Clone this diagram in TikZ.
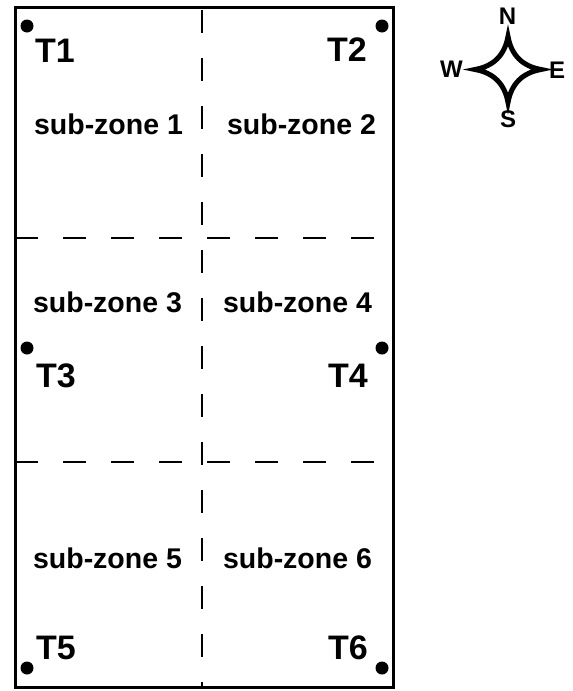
\documentclass[tikz,border=0pt]{standalone}
\usepackage{fontspec}
\setmainfont{Liberation Sans}
\begin{document}
\begin{tikzpicture}[x=1pt,y=-1pt,
  frame/.style={line width=3pt},
  divider/.style={line width=2pt, dash pattern=on 23pt off 25pt},
  tdot/.style={circle, fill=black, inner sep=0pt, minimum size=13pt},
  tlabel/.style={inner sep=0pt, font=\fontsize{34}{38}\selectfont\bfseries},
  zlabel/.style={inner sep=0pt, font=\fontsize{28.5}{32}\selectfont\bfseries},
  clabel/.style={inner sep=0pt, font=\fontsize{24}{28}\selectfont\bfseries},
  star/.style={line width=5pt, line join=miter, miter limit=20}]
\useasboundingbox (0,0) rectangle (573,691);
% frame
\coordinate (tl) at (15,7);
\coordinate (br) at (393,687);
\draw[frame] (tl) rectangle (br);
% dividers
\coordinate (vt) at (202,7);
\coordinate (vb) at (202,687);
\draw[divider, dash phase=45pt] (vt) -- (vb);
\coordinate (h1l) at (15,237.5);
\coordinate (h1r) at (393,237.5);
\draw[divider] (h1l) -- (h1r);
\coordinate (h2l) at (15,462);
\coordinate (h2r) at (393,462);
\draw[divider] (h2l) -- (h2r);
% dots
\node[tdot] (d1) at (27,26) {};
\node[tdot] (d2) at (382,26) {};
\node[tdot] (d3) at (27,348) {};
\node[tdot] (d4) at (382,348) {};
\node[tdot] (d5) at (27,668) {};
\node[tdot] (d6) at (382,668) {};
% T labels
\node[tlabel] (t1) at (55,51) {T1};
\node[tlabel] (t2) at (347,50) {T2};
\node[tlabel] (t3) at (56,376) {T3};
\node[tlabel] (t4) at (348,376) {T4};
\node[tlabel] (t5) at (56,648) {T5};
\node[tlabel] (t6) at (348,648) {T6};
% sub-zone labels
\node[zlabel] (z1) at (108.5,124) {sub-zone 1};
\node[zlabel] (z2) at (301.5,124) {sub-zone 2};
\node[zlabel] (z3) at (107.5,302) {sub-zone 3};
\node[zlabel] (z4) at (297.5,302) {sub-zone 4};
\node[zlabel] (z5) at (107.5,558) {sub-zone 5};
\node[zlabel] (z6) at (297.5,558) {sub-zone 6};
% compass
\coordinate (cn) at (508,36.5);
\coordinate (ce) at (541,69.5);
\coordinate (cs) at (508,102.5);
\coordinate (cw) at (475,69.5);
\draw[star] (cn) .. controls (511.33,55.17) and (522.33,66.17) .. (ce)
  .. controls (522.33,72.83) and (511.33,83.83) .. (cs)
  .. controls (504.67,83.83) and (493.67,72.83) .. (cw)
  .. controls (493.67,66.17) and (504.67,55.17) .. cycle;
\node[clabel] (ln) at (507.5,16) {N};
\node[clabel] (le) at (557,70) {E};
\node[clabel] (ls) at (508,119) {S};
\node[clabel] (lw) at (451.5,69) {W};
\end{tikzpicture}
\end{document}
